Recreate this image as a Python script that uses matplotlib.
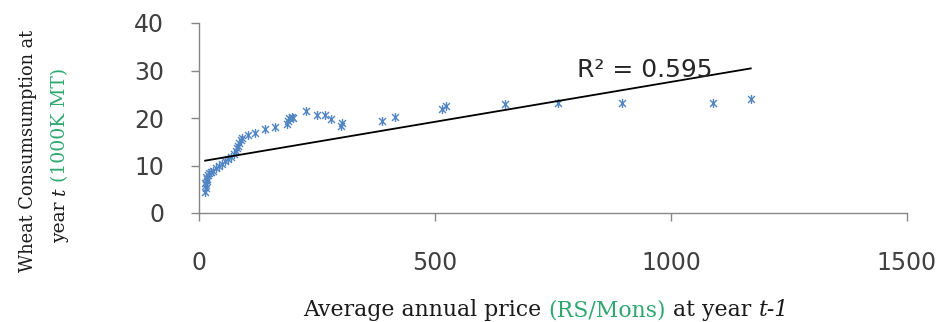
import numpy as np
import matplotlib
matplotlib.use("Agg")
import matplotlib.pyplot as plt
from matplotlib.path import Path
from matplotlib.transforms import IdentityTransform

# price at year t-1 vs wheat consumption at year t
price = [12, 14, 15, 13, 16, 18, 14, 20, 22, 26, 30, 36, 42, 48, 55, 62, 68, 74,
         78, 80, 82, 85, 88, 92, 104, 118, 139, 160, 186, 188, 190, 196, 200,
         226, 249, 267, 280, 300, 304, 388, 416, 515, 524, 649, 760, 897, 1089, 1169]
consumption = [4.5, 5.2, 5.8, 6.3, 6.8, 7.2, 7.6, 8.0, 8.4, 8.6, 8.9, 9.4, 9.9, 10.3,
               10.9, 11.4, 11.8, 12.4, 13.0, 13.6, 14.2, 14.8, 15.3, 15.7, 16.4, 16.9,
               17.6, 18.2, 18.8, 19.4, 20.0, 20.3, 20.0, 21.5, 20.6, 20.6, 19.8, 18.3,
               18.9, 19.4, 20.3, 22.0, 22.6, 22.9, 23.2, 23.1, 23.1, 23.9]

# linear trend line as shown in the chart
trend_range = [13, 1169]
trend_intercept = 10.8
trend_slope = 0.0168
r_squared = 0.595

x_ticks = [0, 500, 1000, 1500]
y_ticks = [0, 10, 20, 30, 40]

GREEN = "#2fa870"
GRAY = "#868686"

fig = plt.figure(figsize=(9.48, 3.22), dpi=100)
ax = fig.add_axes([199 / 948, 1 - 213 / 322, (907 - 199) / 948, (213 - 23) / 322])

# asterisk-like marker (x with a vertical stroke)
star = Path([(-1, -1), (1, 1), (-1, 1), (1, -1), (0, -1.3), (0, 1.3)],
            [Path.MOVETO, Path.LINETO, Path.MOVETO, Path.LINETO, Path.MOVETO, Path.LINETO])
ax.plot(price, consumption, linestyle="none", marker=star, markersize=6.5,
        markeredgecolor="#5185c4", markerfacecolor="none", markeredgewidth=1.0)

tx = np.array(trend_range)
ax.plot(tx, trend_intercept + trend_slope * tx, color="black", linewidth=1.3)

ax.text(801, 28.6, "R² = %.3f" % r_squared, fontsize=18, color="#262626",
        family="DejaVu Sans", va="baseline")

ax.set_xlim(0, 1500)
ax.set_ylim(0, 40)
ax.set_xticks(x_ticks)
ax.set_yticks(y_ticks)
for s in ["top", "right"]:
    ax.spines[s].set_visible(False)
for s in ["left", "bottom"]:
    ax.spines[s].set_color(GRAY)
    ax.spines[s].set_linewidth(1.0)
ax.tick_params(axis="both", direction="out", length=6, width=1.0, color=GRAY,
               labelsize=17, labelcolor="#404040")
ax.tick_params(axis="x", pad=21)
ax.tick_params(axis="y", pad=19)
ax.patch.set_visible(False)


def piece_width(renderer, s, **kw):
    t = fig.text(0, 0, s, **kw)
    w = t.get_window_extent(renderer).width
    t.remove()
    return w


def multicolor_text(x, y, pieces, rotation=0, size=14):
    # pieces: (text, color, style); placed one after another with a space between
    renderer = fig.canvas.get_renderer()
    base = dict(family="DejaVu Serif", size=size)
    gap = piece_width(renderer, "x x", **base) - piece_width(renderer, "xx", **base)
    widths = [piece_width(renderer, s, style=st, **base) for s, c, st in pieces]
    total = sum(widths) + gap * (len(pieces) - 1)
    pos = (x if rotation == 0 else y) - total / 2
    for (s, c, st), w in zip(pieces, widths):
        px, py = (pos, y) if rotation == 0 else (x, pos)
        fig.text(px, py, s, color=c, style=st, ha="left", va="baseline",
                 rotation=rotation, rotation_mode="anchor",
                 transform=IdentityTransform(), **base)
        pos += w + gap


fig.canvas.draw()
multicolor_text(546, 6, [("Average annual price", "#1a1a1a", "normal"),
                         ("(RS/Mons)", GREEN, "normal"),
                         ("at year", "#1a1a1a", "normal"),
                         ("t-1", "#1a1a1a", "italic")], size=15.8)
multicolor_text(33, 322 - 151, [("Wheat Consumsumption at", "#1a1a1a", "normal")],
                rotation=90, size=12.8)
multicolor_text(65, 322 - 155, [("year", "#1a1a1a", "normal"),
                                ("t", "#1a1a1a", "italic"),
                                ("(1000K MT)", GREEN, "normal")],
                rotation=90, size=13.5)

fig.savefig("out.png", dpi=100)
